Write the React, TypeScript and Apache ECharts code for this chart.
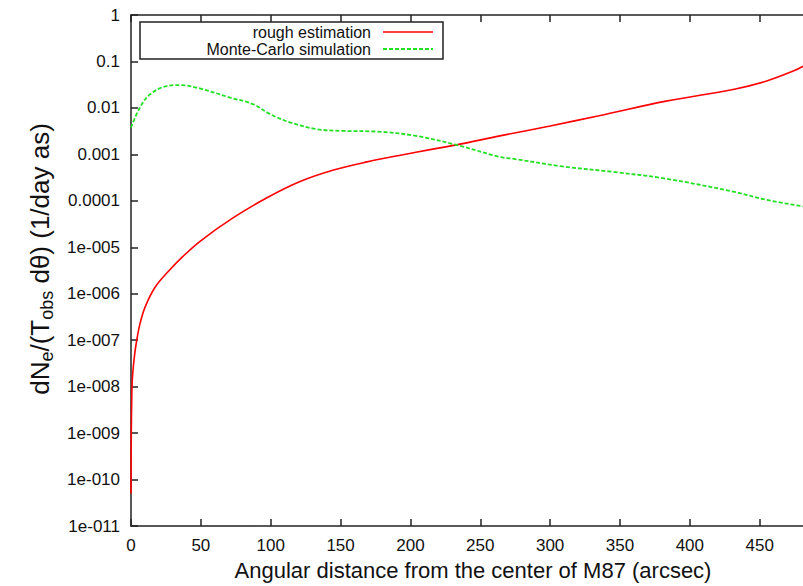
import React, { useEffect, useRef } from "react";
import * as echarts from "echarts";

const FONT = "'Liberation Sans', Arial, Helvetica, sans-serif";

const xTicks = [0, 50, 100, 150, 200, 250, 300, 350, 400, 450];
const yTickLabels = [
  "1e-011", "1e-010", "1e-009", "1e-008", "1e-007", "1e-006",
  "1e-005", "0.0001", "0.001", "0.01", "0.1", "1",
];
const seriesNames = ["rough estimation", "Monte-Carlo simulation"];
const seriesColors = ["#ff0000", "#22e022"];
const xTitle = "Angular distance from the center of M87 (arcsec)";

const roughX = [0, 0.2, 0.5, 0.93, 2.4, 4.1, 6.4, 10, 17, 27, 37, 49.4, 73, 97, 121, 145, 169, 192, 216, 233, 264, 300, 335, 383, 431, 455, 474, 481];
const roughY = [5e-11, 1e-9, 4.5e-9, 1.4e-8, 4.4e-8, 1e-7, 2.25e-7, 5.1e-7, 1.35e-6, 3.1e-6, 6.3e-6, 1.35e-5, 4.3e-5, 1.15e-4, 2.6e-4, 4.6e-4, 6.9e-4, 9.5e-4, 1.3e-3, 1.6e-3, 2.5e-3, 4.1e-3, 6.8e-3, 0.014, 0.025, 0.038, 0.062, 0.079];

const mcX = [0, 6.4, 13.6, 25.5, 35, 47, 71, 87.5, 99.4, 113.7, 132.8, 152, 176, 204, 233, 264, 273, 309, 345, 383, 431, 455, 481];
const mcY = [3.8e-3, 0.0102, 0.0196, 0.0296, 0.031, 0.0274, 0.0167, 0.012, 7.4e-3, 4.9e-3, 3.5e-3, 3.2e-3, 3.1e-3, 2.5e-3, 1.6e-3, 8.8e-4, 8.1e-4, 5.5e-4, 4.2e-4, 3.0e-4, 1.58e-4, 1.05e-4, 7.6e-5];

export default function App() {
  const ref = useRef<HTMLDivElement>(null);
  useEffect(() => {
    const chart = echarts.init(ref.current!, null, { renderer: "svg" });
    const axisLine = { show: true, onZero: false, lineStyle: { color: "#222", width: 1.5 } };
    const axisTick = { show: true, inside: true, length: 7, lineStyle: { color: "#222", width: 1.5 } };
    const legendRowsY = [32, 49];
    chart.setOption({
      animation: false,
      backgroundColor: "#fff",
      grid: { left: 131, right: 0, top: 15, bottom: 56, containLabel: false },
      xAxis: [
        {
          type: "value", min: 0, max: 481, interval: 50, position: "bottom",
          axisLine, axisTick: { ...axisTick, customValues: xTicks },
          splitLine: { show: false },
          axisLabel: {
            customValues: xTicks, margin: 11, fontSize: 17, color: "#111", fontFamily: FONT,
            formatter: (v: number) => (xTicks.includes(v) ? String(v) : ""),
          },
          name: xTitle, nameLocation: "middle", nameGap: 31,
          nameTextStyle: { fontSize: 22, color: "#111", fontFamily: FONT, padding: [0, 0, 0, 12] },
        },
        {
          type: "value", min: 0, max: 481, interval: 50, position: "top",
          axisLine, axisTick: { ...axisTick, customValues: xTicks },
          splitLine: { show: false }, axisLabel: { show: false },
        },
      ],
      yAxis: {
        type: "log", logBase: 10, min: 1e-11, max: 1, interval: 1,
        axisLine, axisTick, splitLine: { show: false }, minorTick: { show: false },
        axisLabel: {
          margin: 11, fontSize: 17, color: "#111", fontFamily: FONT,
          formatter: (v: number) => {
            const e = Math.round(Math.log10(v));
            return yTickLabels[e + 11] ?? "";
          },
        },
      },
      graphic: [
        {
          type: "rect", shape: { x: 140, y: 22, width: 303, height: 37 },
          style: { fill: "transparent", stroke: "#222", lineWidth: 1.5 }, z: 100,
        },
        ...seriesNames.map((n, i) => ({
          type: "text", x: 371, y: legendRowsY[i], z: 100,
          style: {
            text: n, align: "right", verticalAlign: "middle", fontFamily: FONT,
            fontSize: 16, lineHeight: 16, fill: "#111",
          },
        })),
        ...seriesNames.map((n, i) => ({
          type: "line", z: 100,
          shape: { x1: 383, y1: legendRowsY[i], x2: 433, y2: legendRowsY[i] },
          style: { stroke: seriesColors[i], lineWidth: i === 0 ? 1.6 : 1.8, lineDash: i === 0 ? null : [4, 2] },
        })),
        {
          type: "text", x: 40, y: 259, rotation: Math.PI / 2,
          style: {
            text: "{a|dN}{s|e}{a|/(T}{s|obs}{a| dθ) (1/day as)}",
            align: "center", verticalAlign: "middle",
            fontFamily: FONT, fontSize: 26, fill: "#111",
            rich: {
              a: { fontSize: 26, lineHeight: 32, fontFamily: FONT, fill: "#111", verticalAlign: "middle" },
              s: { fontSize: 18, lineHeight: 18, fontFamily: FONT, fill: "#111", verticalAlign: "bottom" },
            },
          },
        },
      ],
      series: [
        {
          name: seriesNames[0], type: "line", showSymbol: false, symbol: "none",
          smooth: 0.35,
          data: roughX.map((x, i) => [x, roughY[i]]),
          lineStyle: { color: seriesColors[0], width: 1.6 }, itemStyle: { color: seriesColors[0] },
        },
        {
          name: seriesNames[1], type: "line", showSymbol: false, symbol: "none",
          smooth: 0.35,
          data: mcX.map((x, i) => [x, mcY[i]]),
          lineStyle: { color: seriesColors[1], width: 1.8, type: [4, 2] }, itemStyle: { color: seriesColors[1] },
        },
      ],
    });
    return () => chart.dispose();
  }, []);
  return (
    <div
      ref={ref}
      style={{ position: "fixed", left: 0, top: 0, width: 803, height: 586, background: "#fff" }}
    />
  );
}
